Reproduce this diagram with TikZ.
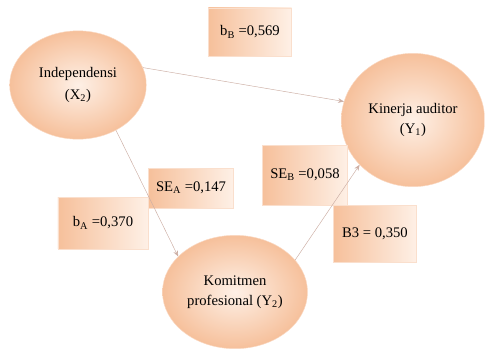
\documentclass[tikz,border=0pt]{standalone}
\usepackage{fontspec}
\setmainfont{Liberation Serif}
\usepackage{xcolor}
\usepackage{tikz}
\usetikzlibrary{shapes.geometric,arrows.meta}
\definecolor{peach}{RGB}{246,192,155}
\definecolor{peachlight}{RGB}{254,240,230}
\definecolor{linegray}{RGB}{205,175,165}

\begin{document}
\begin{tikzpicture}[
  x=0.03cm, y=-0.03cm,
  every node/.style={font=\fontsize{12.5}{14}\selectfont},
  varnode/.style={
    ellipse, draw=peach!60, inner color=peachlight, outer color=peach,
    align=center, inner sep=2pt
  },
  coefbox/.style={
    draw=peach!50, left color=peach, right color=peachlight,
    align=center, inner sep=3pt, minimum width=2.5cm, minimum height=1.6cm
  },
  arr/.style={-{Stealth[length=5pt,width=4pt]}, draw=linegray, thin}
]
\useasboundingbox (0,0) rectangle (485,353);

\node[varnode, minimum width=4.1cm, minimum height=3.25cm] (IND) at (78, 85)
  {Independensi\\[5pt](X\textsubscript{2})};
\node[varnode, minimum width=4.3cm, minimum height=4.0cm] (KIN) at (413, 120)
  {Kinerja auditor\\[3pt](Y\textsubscript{1})};
\node[varnode, minimum width=4.35cm, minimum height=3.4cm] (KOM) at (235, 292)
  {Komitmen\\[3pt]profesional (Y\textsubscript{2})};

\node[coefbox, minimum width=2.5cm, minimum height=1.45cm] (bB)  at (250, 32)  {b\textsubscript{B} =0,569};
\node[coefbox, minimum width=2.55cm, minimum height=1.2cm] (SEA) at (191, 188) {SE\textsubscript{A} =0,147};
\node[coefbox, minimum width=2.7cm, minimum height=1.55cm] (bA)  at (103, 223) {b\textsubscript{A} =0,370};
\node[coefbox, minimum width=2.55cm, minimum height=1.8cm] (SEB) at (305, 175) {SE\textsubscript{B} =0,058};
\node[coefbox, minimum width=2.5cm, minimum height=1.7cm] (B3)  at (375, 234) {B3 = 0,350};

%% Jalur antar variabel
\draw[arr] (IND.15)  -- (KIN.165);
\draw[arr] (IND.-50) -- (KOM.148);
\draw[arr] (KOM.28)  -- (KIN.220);

\end{tikzpicture}
\end{document}
